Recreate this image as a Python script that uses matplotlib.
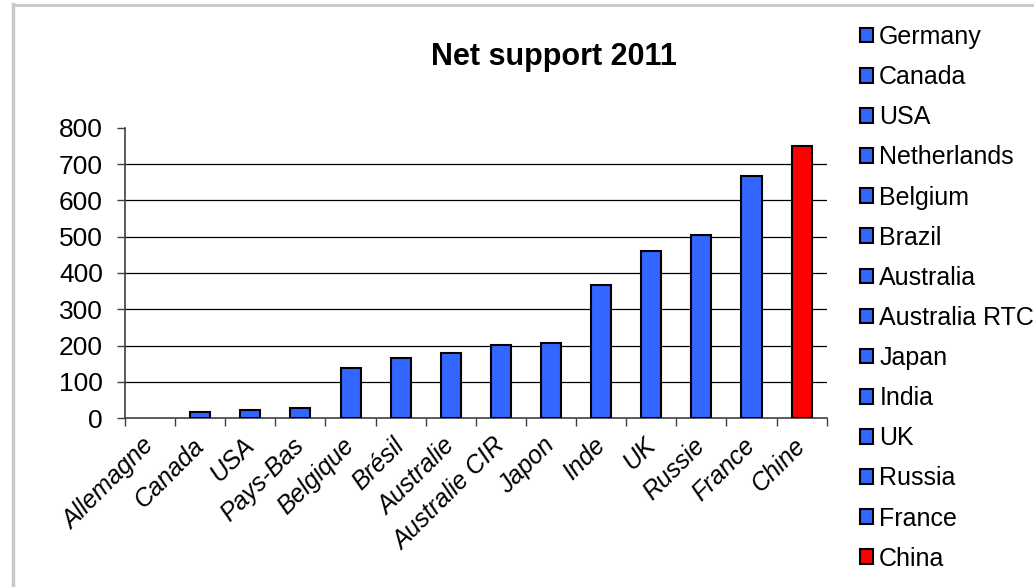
import numpy as np
import matplotlib
matplotlib.use("Agg")
import matplotlib.pyplot as plt
from matplotlib.patches import Patch
from matplotlib.lines import Line2D
import matplotlib.transforms as mtransforms

plt.rcParams['font.family'] = ['Liberation Sans', 'DejaVu Sans']

# data
labels_fr = ["Allemagne", "Canada", "USA", "Pays-Bas", "Belgique", "Brésil",
             "Australie", "Australie CIR", "Japon", "Inde", "UK", "Russie",
             "France", "Chine"]
labels_en = ["Germany", "Canada", "USA", "Netherlands", "Belgium", "Brazil",
             "Australia", "Australia RTC", "Japan", "India", "UK", "Russia",
             "France", "China"]
values = [0, 17, 22, 28, 138, 165, 181, 202, 207, 367, 460, 504, 668, 750]
colors = ["#3366FF"] * 13 + ["#FF0000"]

fig = plt.figure(figsize=(10.34, 5.87), dpi=100)
ax = fig.add_axes([125 / 1034, 168.7 / 587, 701.7 / 1034, 290.6 / 587])

x = np.arange(len(values))
# no outline on zero-height bars
edges = ["black" if v > 0 else "none" for v in values]
ax.bar(x, values, width=0.4, color=colors, edgecolor=edges, linewidth=1.5,
       zorder=3)

ax.set_xlim(-0.5, len(values) - 0.5)
ax.set_ylim(0, 800)
ax.set_yticks(range(0, 801, 100))
for v in range(100, 800, 100):
    ax.axhline(v, color="black", linewidth=0.9, zorder=1)

ax.set_xticks(x)
ax.set_xticklabels(labels_fr, rotation=45, ha="right", va="center",
                   rotation_mode="anchor", fontstyle="italic", fontsize=18)
shift = mtransforms.ScaledTranslation(-6 / 100, 0, fig.dpi_scale_trans)
for lab in ax.get_xticklabels():
    lab.set_transform(lab.get_transform() + shift)
ax.tick_params(axis="x", length=0, pad=17)
ax.set_xticks(np.arange(-0.5, len(values)), minor=True)
ax.tick_params(axis="x", which="minor", length=6, width=1, color="#404040")
ax.tick_params(axis="y", length=6, width=1, color="#404040", labelsize=19,
               pad=10)

for s in ["top", "right"]:
    ax.spines[s].set_visible(False)
for s in ["left", "bottom"]:
    ax.spines[s].set_color("#404040")
    ax.spines[s].set_linewidth(1.2)

fig.text(554 / 1034, 1 - 57 / 587, "Net support 2011", fontsize=22,
         fontweight="bold", ha="center", va="center")

handles = [Patch(facecolor=c, edgecolor="black", linewidth=1.5) for c in colors]
fig.legend(handles, labels_en, loc="upper left",
           bbox_to_anchor=(850 / 1034, 1 - 15 / 587), frameon=False,
           fontsize=18, handlelength=0.52, handleheight=0.52, handletextpad=0.25,
           labelspacing=0.645, borderaxespad=0)

# light grey frame round the chart area
fig.add_artist(Line2D([12.5 / 1034, 12.5 / 1034], [0, 1 - 4 / 587],
                      color="#c8c8c8", linewidth=2.5))
fig.add_artist(Line2D([12.5 / 1034, 1], [1 - 5 / 587, 1 - 5 / 587],
                      color="#c8c8c8", linewidth=2))

fig.savefig("out.png", dpi=100)
